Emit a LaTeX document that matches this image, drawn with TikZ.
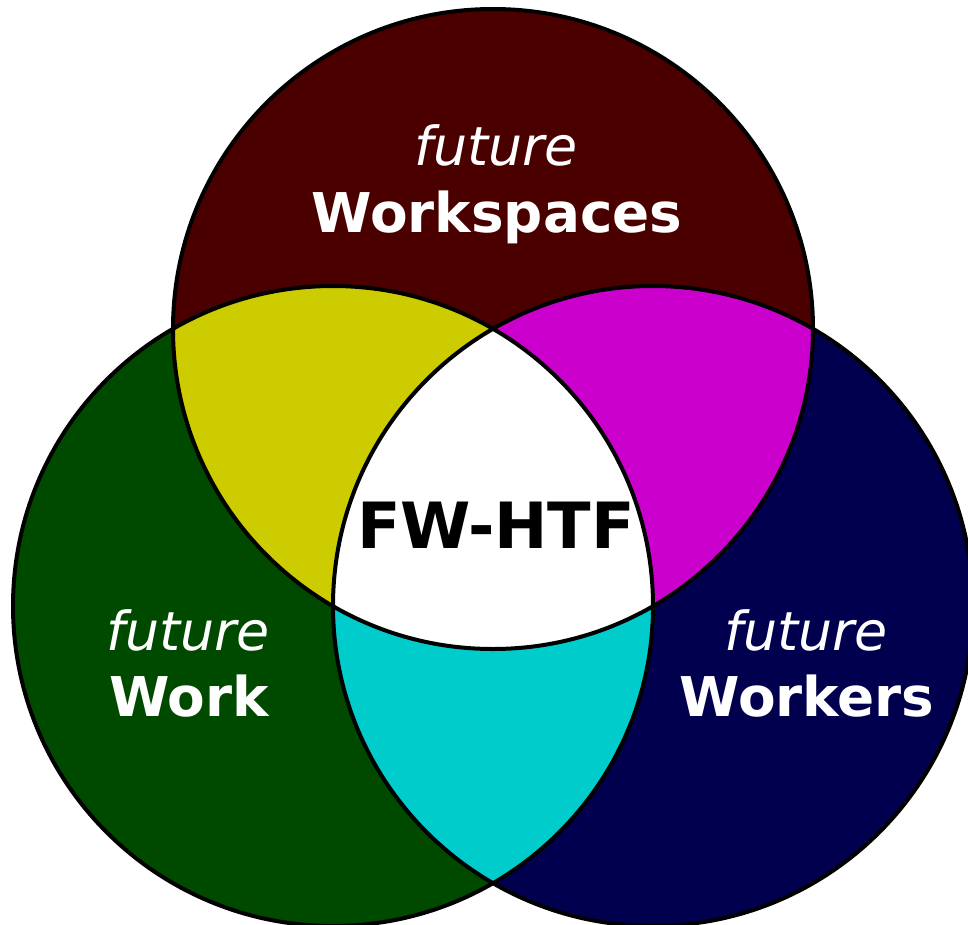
\documentclass[tikz,border=0pt]{standalone}
\usepackage{fontspec}
\setmainfont{DejaVu Sans}
\definecolor{cTop}{RGB}{75,0,0}
\definecolor{cLeft}{RGB}{0,74,0}
\definecolor{cRight}{RGB}{0,0,78}
\definecolor{cTL}{RGB}{204,204,0}
\definecolor{cTR}{RGB}{204,0,204}
\definecolor{cLR}{RGB}{0,204,204}
\tikzset{
  outline/.style={draw=black, line width=4bp},
  lbl/.style={text=white, align=center, inner sep=0pt},
  it/.style={font=\fontsize{54}{54}\selectfont\itshape},
  bf/.style={font=\fontsize{55}{55}\selectfont\bfseries},
}
\begin{document}
\begin{tikzpicture}[x=1bp,y=-1bp]
\useasboundingbox (0,0) rectangle (968,925);
\clip (0,0) rectangle (968,925);
\def\R{320}
\coordinate (T) at (493,329);
\coordinate (L) at (333,606);
\coordinate (Rc) at (653,606);
% base circles
\fill[cTop] (T) circle (\R);
\fill[cLeft] (L) circle (\R);
\fill[cRight] (Rc) circle (\R);
% pairwise overlaps
\begin{scope}
  \clip (T) circle (\R);
  \fill[cTL] (L) circle (\R);
  \fill[cTR] (Rc) circle (\R);
\end{scope}
\begin{scope}
  \clip (L) circle (\R);
  \fill[cLR] (Rc) circle (\R);
\end{scope}
% triple overlap
\begin{scope}
  \clip (T) circle (\R);
  \clip (L) circle (\R);
  \fill[white] (Rc) circle (\R);
\end{scope}
% outlines
\draw[outline] (T) circle (\R);
\draw[outline] (L) circle (\R);
\draw[outline] (Rc) circle (\R);
% labels
\node[lbl, it, anchor=base] (f1) at (496,165) {future};
\node[lbl, bf, anchor=base] (w1) at (497,232) {Workspaces};
\node[lbl, it, anchor=base] (f2) at (188,650) {future};
\node[lbl, bf, anchor=base] (w2) at (189,716) {Work};
\node[lbl, it, anchor=base] (f3) at (806,650) {future};
\node[lbl, bf, anchor=base] (w3) at (807,716) {Workers};
\node[inner sep=0pt, anchor=base, font=\fontsize{64}{64}\selectfont\bfseries] (c) at (496,548) {FW-HTF};
\end{tikzpicture}
\end{document}
